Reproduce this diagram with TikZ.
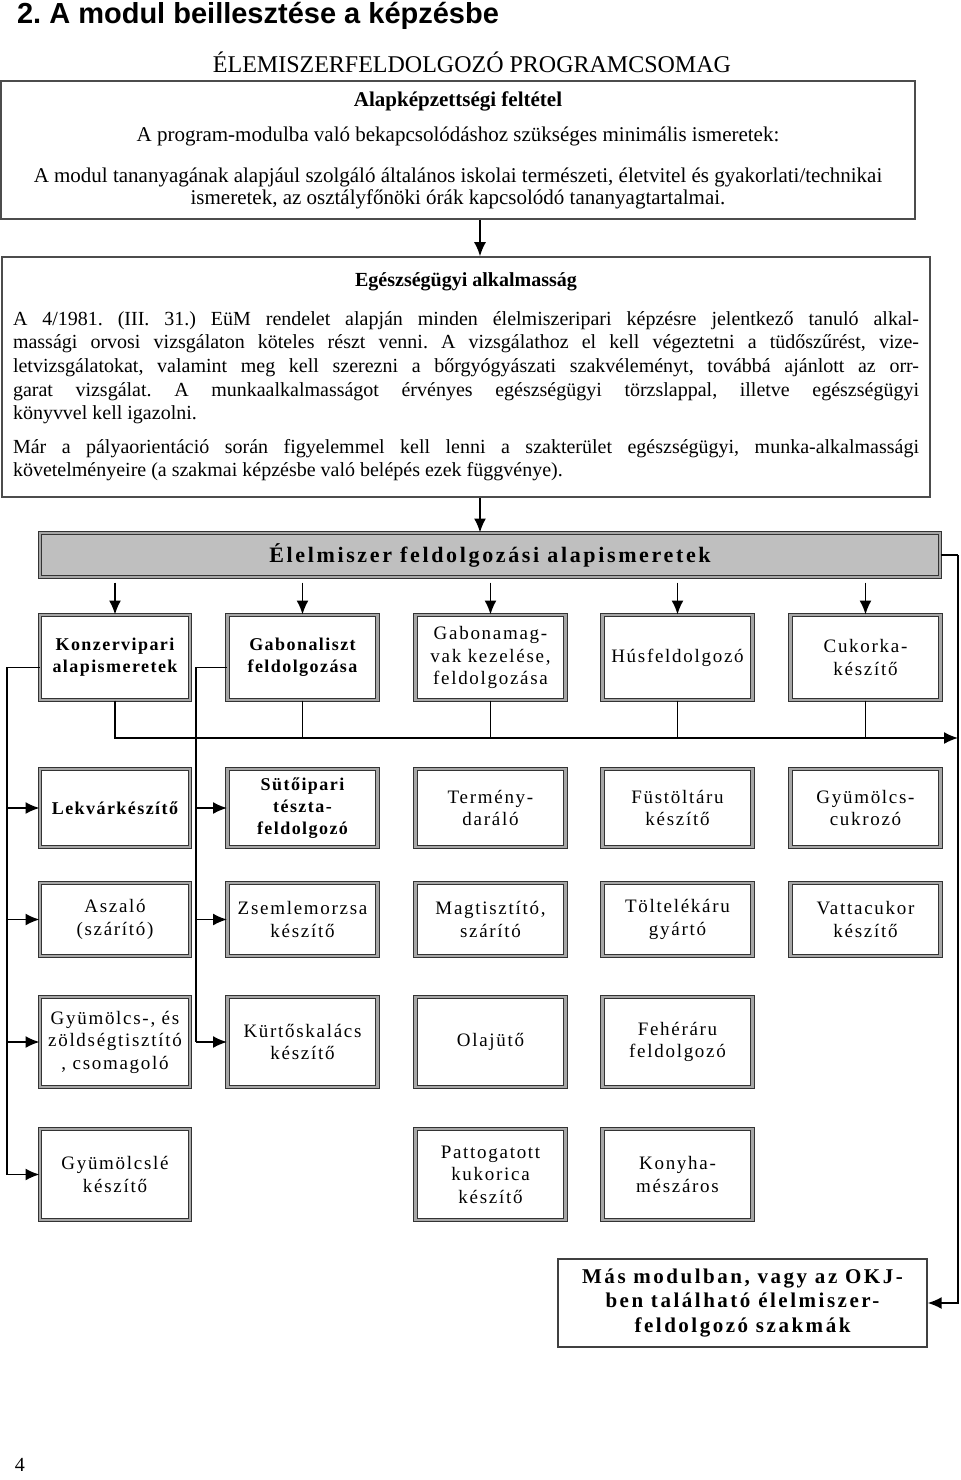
\documentclass[tikz,border=0pt]{standalone}
\usepackage{fontspec}
\setmainfont{Liberation Serif}
\newfontfamily\cimfont{Liberation Sans}
\newfontfamily\ritkitott[LetterSpace=9]{Liberation Serif}
\newfontfamily\ritkitottb[LetterSpace=8]{Liberation Serif}
\newfontfamily\ritkitottc[LetterSpace=12]{Liberation Serif}
\usetikzlibrary{arrows.meta}
\frenchspacing

\begin{document}
\begin{tikzpicture}[x=0.5pt,y=-0.5pt,>={Latex[length=7pt,width=6pt]}]
	\tikzstyle{keret}=[draw=black!70,line width=0.8pt,inner sep=0pt,align=center]
	\tikzstyle{szakma}=[draw=black!80,double=black!35,double distance=1.2pt,line width=0.5pt,minimum width=75pt,inner sep=1pt,align=center,font=\ritkitott\fontsize{9.5}{11.25}\selectfont]
	\tikzstyle{szakmab}=[szakma,font=\ritkitottb\bfseries\fontsize{9}{11}\selectfont]
	\tikzstyle{nyil}=[->,line width=0.8pt]
	\tikzstyle{vonal}=[line width=0.7pt]
	\useasboundingbox (0,0) rectangle (960,1480);

	\node[anchor=west,font=\cimfont\bfseries\fontsize{14.5}{16}\selectfont] (cim) at (10,16) {2. A modul beillesztése a képzésbe};
	\node[font=\fontsize{12}{14}\selectfont] (csomag) at (472,62) {ÉLEMISZERFELDOLGOZÓ PROGRAMCSOMAG};
	\node[keret,minimum width=457pt,minimum height=69pt,font=\fontsize{10.5}{11}\selectfont] (feltetel) at (458,150) {{\bfseries Alapképzettségi feltétel}\\[6.5pt]
		A program-modulba való bekapcsolódáshoz szükséges minimális ismeretek:\\[9.5pt]
		A modul tananyagának alapjául szolgáló általános iskolai természeti, életvitel és gyakorlati/technikai\\
		ismeretek, az osztályfőnöki órák kapcsolódó tananyagtartalmai.};
	\node[keret,minimum width=464pt,minimum height=120pt,text width=453pt,align=justify,font=\fontsize{10}{11.8}\selectfont] (alkalmassag) at (466,377) {{\centering\bfseries Egészségügyi alkalmasság\par}\vspace{7.5pt}
		A 4/1981. (III. 31.) EüM rendelet alapján minden élelmiszeripari képzésre jelentkező tanuló alkal-\linebreak
		massági orvosi vizsgálaton köteles részt venni. A vizsgálathoz el kell végeztetni a tüdőszűrést, vize-\linebreak
		letvizsgálatokat, valamint meg kell szerezni a bőrgyógyászati szakvéleményt, továbbá ajánlott az orr-\linebreak
		garat vizsgálat. A munkaalkalmasságot érvényes egészségügyi törzslappal, illetve egészségügyi\linebreak
		könyvvel kell igazolni.\par\vspace{5pt}
		Már a pályaorientáció során figyelemmel kell lenni a szakterület egészségügyi, munka-alkalmassági\linebreak
		követelményeire (a szakmai képzésbe való belépés ezek függvénye).};
	\node[szakma,fill=black!25,minimum width=450pt,minimum height=22pt,font=\ritkitottc\bfseries\fontsize{11}{13}\selectfont] (alap) at (490,555) {Élelmiszer feldolgozási alapismeretek};

	% elso sor
	\node[szakmab,minimum height=42.5pt] (a-1) at (115,657.5) {Konzervipari\\alapismeretek};
	\node[szakmab,minimum height=42.5pt] (a-2) at (302.5,657.5) {Gabonaliszt\\feldolgozása};
	\node[szakma,minimum height=42.5pt] (a-3) at (490.5,657.5) {Gabonamag-\\vak kezelése,\\feldolgozása};
	\node[szakma,minimum height=42.5pt] (a-4) at (677.5,657.5) {Húsfeldolgozó};
	\node[szakma,minimum height=42.5pt] (a-5) at (865.5,657.5) {Cukorka-\\készítő};
	% masodik sor
	\node[szakmab,minimum height=39pt] (b-1) at (115,808) {Lekvárkészítő};
	\node[szakmab,minimum height=39pt] (b-2) at (302.5,808) {Sütőipari\\tészta-\\feldolgozó};
	\node[szakma,minimum height=39pt] (b-3) at (490.5,808) {Termény-\\daráló};
	\node[szakma,minimum height=39pt] (b-4) at (677.5,808) {Füstöltáru\\készítő};
	\node[szakma,minimum height=39pt] (b-5) at (865.5,808) {Gyümölcs-\\cukrozó};
	% harmadik sor
	\node[szakma,minimum height=36.5pt] (c-1) at (115,919.5) {Aszaló\\(szárító)};
	\node[szakma,minimum height=36.5pt] (c-2) at (302.5,919.5) {Zsemlemorzsa\\készítő};
	\node[szakma,minimum height=36.5pt] (c-3) at (490.5,919.5) {Magtisztító,\\szárító};
	\node[szakma,minimum height=36.5pt] (c-4) at (677.5,919.5) {Töltelékáru\\gyártó};
	\node[szakma,minimum height=36.5pt] (c-5) at (865.5,919.5) {Vattacukor\\készítő};
	% negyedik sor
	\node[szakma,minimum height=45pt] (d-1) at (115,1042) {Gyümölcs-, és\\zöldségtisztító\\, csomagoló};
	\node[szakma,minimum height=45pt] (d-2) at (302.5,1042) {Kürtőskalács\\készítő};
	\node[szakma,minimum height=45pt] (d-3) at (490.5,1042) {Olajütő};
	\node[szakma,minimum height=45pt] (d-4) at (677.5,1042) {Fehéráru\\feldolgozó};
	% otodik sor
	\node[szakma,minimum height=45.5pt] (e-1) at (115,1174.5) {Gyümölcslé\\készítő};
	\node[szakma,minimum height=45.5pt] (e-3) at (490.5,1174.5) {Pattogatott\\kukorica\\készítő};
	\node[szakma,minimum height=45.5pt] (e-4) at (677.5,1174.5) {Konyha-\\mészáros};

	\node[keret,draw=black!75,line width=0.7pt,minimum width=184.5pt,minimum height=44pt,font=\ritkitottc\bfseries\fontsize{10.5}{12.25}\selectfont] (mas) at (742.5,1303) {Más modulban, vagy az OKJ-\\ben található élelmiszer-\\feldolgozó szakmák};
	\node[font=\fontsize{10}{12}\selectfont] (oldal) at (20,1465) {4};

	\coordinate (tengely) at (480,0);
	\coordinate (gyujto) at (958,738);
	\coordinate (jobb) at (958,555);
	\coordinate (bal1) at (7,0);
	\coordinate (bal2) at (196,0);
	\draw[nyil] (feltetel.south -| tengely) -- (alkalmassag.north -| tengely);
	\draw[nyil] (alkalmassag.south -| tengely) -- (alap.north -| tengely);
	\foreach \i in {1,...,5}{
	\draw[nyil,shorten <=2.5pt] (alap.south -| a-\i) -- (a-\i);
	}
	\draw[nyil] (a-1.south) |- (gyujto);
	\foreach \i in {2,...,5}{
	\draw[vonal] (a-\i.south) -- (a-\i.south |- gyujto);
	}
	\draw[vonal] (alap.east) -- (jobb);
	\draw[nyil] (jobb) |- (mas.east);
	\draw[vonal] ([yshift=-5pt]a-1.west) -| (bal1 |- e-1);
	\foreach \r in {b,c,d,e}{
	\draw[nyil] (bal1 |- \r-1) -- (\r-1);
	}
	\draw[vonal] ([yshift=-5pt]a-2.west) -| (bal2 |- d-2);
	\foreach \r in {b,c,d}{
	\draw[nyil] (bal2 |- \r-2) -- (\r-2);
	}
\end{tikzpicture}
\end{document}
